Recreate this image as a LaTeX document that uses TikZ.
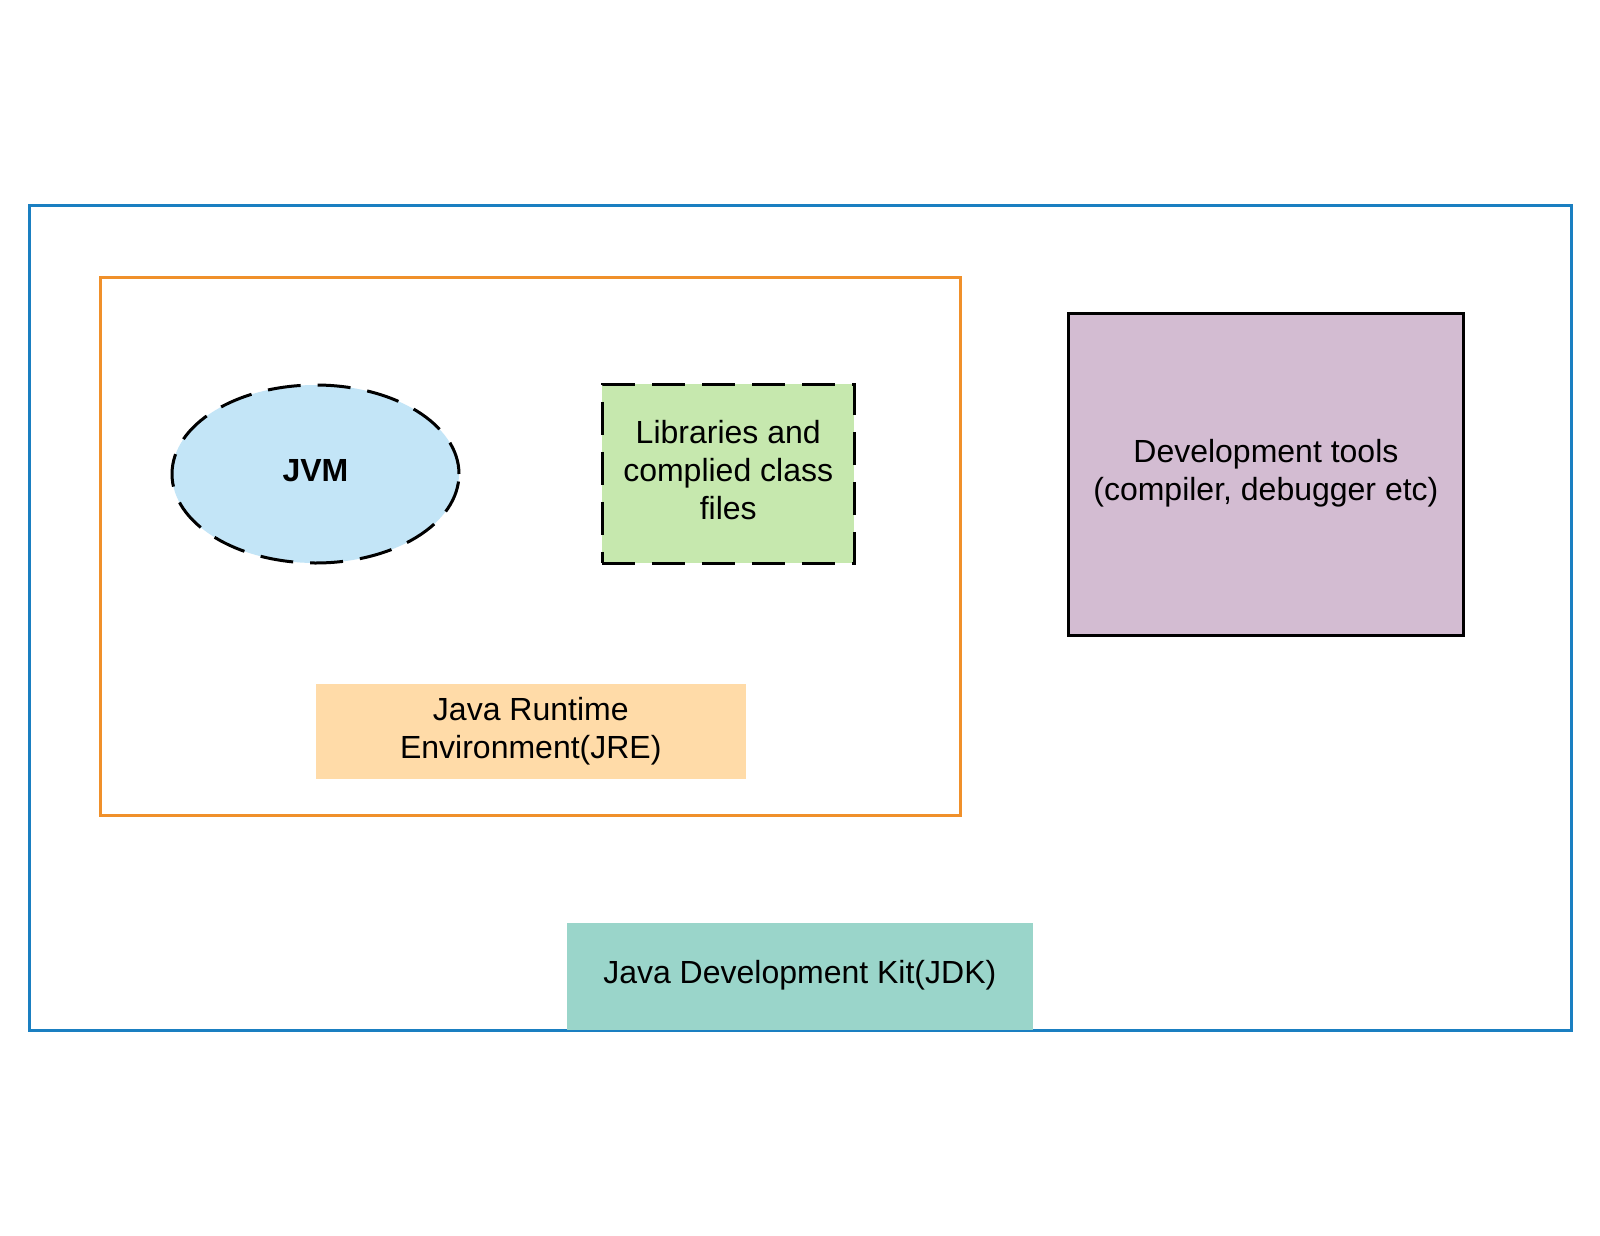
\documentclass[tikz,border=0pt]{standalone}
\usepackage{fontspec}
\setmainfont{Liberation Sans}
\usetikzlibrary{shapes.geometric}
\definecolor{jdkblue}{HTML}{1A7FC1}
\definecolor{jreorange}{HTML}{F0902A}
\definecolor{jvmfill}{HTML}{C3E5F7}
\definecolor{libfill}{HTML}{C6E8AE}
\definecolor{devfill}{HTML}{D3BCD2}
\definecolor{jrefill}{HTML}{FFDBA8}
\definecolor{jdkfill}{HTML}{9AD5CA}
\tikzset{
  lbl/.style={font=\fontsize{16pt}{19.2pt}\selectfont, align=center, text=black},
  boxbase/.style={rectangle, inner sep=0pt, outer sep=0pt},
  dashline/.style={draw=black, line width=1.5pt, dash pattern=on 16.5pt off 8.5pt},
}
\begin{document}
\begin{tikzpicture}[x=0.5pt,y=-0.5pt]
\useasboundingbox[fill=white] (0,0) rectangle (1600,1236);
\node[boxbase, draw=jdkblue, line width=1.5pt, minimum width=771pt, minimum height=412.2pt] (jdk) at (800,617.8) {};
\node[boxbase, draw=jreorange, line width=1.5pt, minimum width=429.9pt, minimum height=268.9pt] (jre) at (530.8,546.2) {};
\node[ellipse, inner sep=0pt, outer sep=0pt, fill=jvmfill, dashline, minimum width=143.5pt, minimum height=89pt] (jvm) at (315.5,474) {};
\node[lbl, font=\fontsize{16pt}{19.2pt}\selectfont\bfseries] (jvmtext) at (315.5,471) {JVM};
\node[boxbase, fill=libfill, dashline, minimum width=125.9pt, minimum height=89.5pt] (lib) at (728.2,473.8) {};
\node[lbl] (libtext) at (728.2,470) {Libraries and\\complied class\\files};
\node[boxbase, fill=devfill, draw=black, line width=1.6pt, minimum width=197.5pt, minimum height=161.2pt] (dev) at (1265.9,474.5) {};
\node[lbl] (devtext) at (1265.9,473) {Development tools\\(compiler, debugger etc)};
\node[boxbase, fill=jrefill, minimum width=214.9pt, minimum height=47.5pt] (jrelabel) at (530.8,731.5) {};
\node[lbl] (jretext) at (530.8,731.5) {Java Runtime\\Environment(JRE)};
\node[boxbase, fill=jdkfill, minimum width=232.9pt, minimum height=53.7pt] (jdklabel) at (799.8,976.3) {};
\node[lbl] (jdktext) at (799.8,975.5) {Java Development Kit(JDK)};
\end{tikzpicture}
\end{document}
